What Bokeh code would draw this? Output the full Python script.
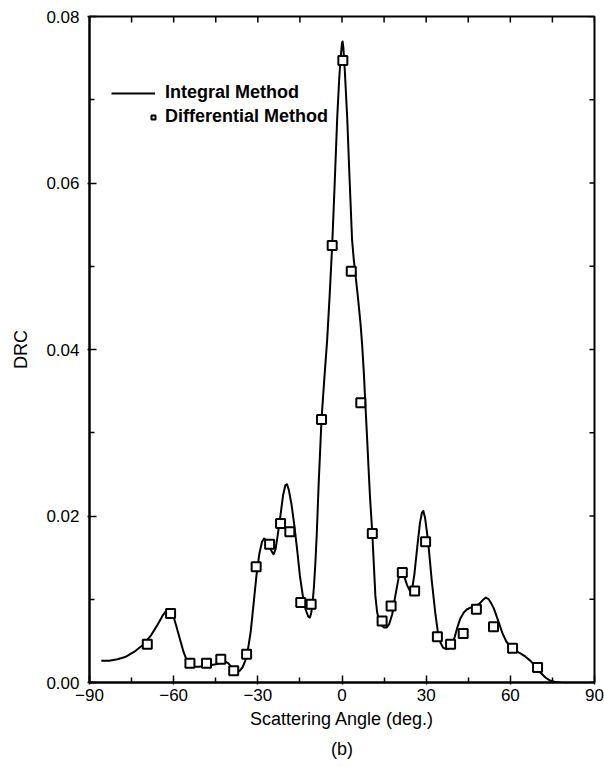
from bokeh.plotting import figure
from bokeh.models import FixedTicker, Legend, LegendItem, Title, Range1d
from bokeh.embed import file_html
from bokeh.resources import INLINE

# Integral method curve: scattering angle (deg) vs DRC
angle_curve = [-85.8, -83.0, -80.0, -77.0, -74.0, -71.0, -68.0, -66.0, -64.0, -62.5,
               -61.5, -60.5, -59.5, -58.5, -57.5, -56.5, -55.5, -54.5, -53.0, -51.0,
               -48.0, -45.0, -43.0, -41.5, -40.5, -39.5, -38.5, -37.5, -36.5, -35.5,
               -34.5, -33.5, -32.5, -31.5, -30.5, -29.5, -28.5, -27.8, -27.0, -26.0,
               -25.0, -24.4, -23.7, -23.0, -22.0, -21.0, -20.2, -19.6, -19.0, -18.0,
               -17.0, -16.0, -15.0, -14.0, -13.0, -12.0, -11.5, -11.0, -10.5, -10.0,
               -9.5, -9.0, -8.3, -7.3, -6.3, -5.3, -4.4, -3.5, -2.6, -1.7,
               -1.0, -0.5, 0.0, 0.2, 0.5, 1.0, 1.85, 2.7, 3.6, 4.2,
               4.8, 5.7, 6.6, 7.2, 7.8, 8.4, 9.0, 9.5, 10.0, 10.8,
               11.4, 11.9, 12.5, 13.2, 14.0, 15.0, 15.9, 16.8, 17.9, 19.0,
               20.2, 21.0, 21.6, 22.4, 23.2, 24.2, 25.0, 25.8, 26.8, 27.8,
               28.5, 29.0, 29.6, 30.3, 30.9, 32.0, 33.3, 34.2, 35.1, 36.0,
               37.1, 38.2, 39.3, 40.2, 41.1, 42.2, 43.4, 44.6, 45.8, 47.3,
               48.8, 50.2, 51.3, 52.3, 53.2, 54.1, 55.6, 57.1, 58.6, 60.1,
               61.8, 63.6, 65.4, 67.2, 69.0, 70.7, 72.5, 74.3, 76.0, 78.0]
drc_curve = [0.0026, 0.0026, 0.0028, 0.0031, 0.0037, 0.0045, 0.0057, 0.0068, 0.0080, 0.0087,
             0.0088, 0.0084, 0.0073, 0.0061, 0.0049, 0.0037, 0.0028, 0.0022, 0.0019, 0.0019,
             0.0020, 0.0022, 0.0024, 0.0025, 0.0023, 0.0019, 0.0015, 0.0013, 0.0014, 0.0018,
             0.0026, 0.0040, 0.0062, 0.0095, 0.0128, 0.0154, 0.0169, 0.0173, 0.0171, 0.0165,
             0.0157, 0.0154, 0.0160, 0.0175, 0.0199, 0.0225, 0.0237, 0.0238, 0.0232, 0.0214,
             0.0189, 0.0160, 0.0128, 0.0105, 0.0088, 0.0079, 0.0078, 0.0083, 0.0095, 0.0115,
             0.0143, 0.0178, 0.0240, 0.0316, 0.0365, 0.0411, 0.0465, 0.0525, 0.0600, 0.0679,
             0.0725, 0.0750, 0.0768, 0.0770, 0.0762, 0.0735, 0.0679, 0.0605, 0.0531, 0.0508,
             0.0490, 0.0462, 0.0431, 0.0405, 0.0371, 0.0330, 0.0290, 0.0255, 0.0222, 0.0179,
             0.0138, 0.0104, 0.0085, 0.0074, 0.0069, 0.0066, 0.0066, 0.0070, 0.0082, 0.0104,
             0.0126, 0.0135, 0.0133, 0.0125, 0.0117, 0.0110, 0.0112, 0.0130, 0.0162, 0.0192,
             0.0204, 0.0206, 0.0198, 0.0180, 0.0162, 0.0122, 0.0082, 0.0060, 0.0048, 0.0042,
             0.0040, 0.0041, 0.0046, 0.0055, 0.0066, 0.0077, 0.0084, 0.0088, 0.0090, 0.0092,
             0.0094, 0.0099, 0.0102, 0.0100, 0.0095, 0.0089, 0.0075, 0.0060, 0.0049, 0.0042,
             0.0038, 0.0035, 0.0031, 0.0026, 0.0019, 0.0012, 0.0006, 0.0002, 0.00005, 0.0]

# Differential method samples
angle_pts = [-69.4, -61.1, -54.2, -48.3, -43.2, -38.6, -34.0, -30.6, -25.8, -21.9,
             -18.6, -14.7, -11.0, -7.3, -3.5, 0.3, 3.3, 6.7, 10.8, 14.3,
             17.5, 21.5, 25.9, 29.8, 34.0, 38.7, 43.2, 47.9, 54.0, 60.8, 69.7]
drc_pts = [0.0046, 0.0083, 0.0023, 0.0023, 0.0028, 0.0014, 0.0034, 0.0139, 0.0166, 0.0191,
           0.0181, 0.0096, 0.0094, 0.0316, 0.0525, 0.0747, 0.0494, 0.0336, 0.0179, 0.0074,
           0.0092, 0.0132, 0.0110, 0.0169, 0.0055, 0.0046, 0.0059, 0.0088, 0.0067, 0.0041, 0.0018]

x_major = [-90, -60, -30, 0, 30, 60, 90]
x_minor = [-75, -45, -15, 15, 45, 75]
x_labels = ["\u221290", "\u221260", "\u221230", "0", "30", "60", "90"]
y_major = [0.0, 0.02, 0.04, 0.06, 0.08]
y_minor = [0.01, 0.03, 0.05, 0.07]
y_labels = ["0.00", "0.02", "0.04", "0.06", "0.08"]

FONT = "Liberation Sans"
X0, X1, Y0, Y1 = -90, 90, 0.0, 0.08
FRAME_W, FRAME_H = 505, 666

p = figure(width=604, height=767, output_backend="svg", toolbar_location=None,
           x_range=Range1d(X0, X1), y_range=Range1d(Y0, Y1),
           min_border_left=89, min_border_right=10, min_border_top=16,
           min_border_bottom=85)
p.background_fill_color = "white"
p.border_fill_color = "white"
p.outline_line_color = "black"
p.outline_line_width = 2
p.grid.visible = False

line_r = p.line(angle_curve, drc_curve, line_color="black", line_width=2,
                line_join="round")
pts_r = p.scatter(angle_pts, drc_pts, marker="square", size=9, line_color="black",
                  line_width=2, fill_color="white")

def style_axis(ax, ticks, minor, labels):
    ax.ticker = FixedTicker(ticks=ticks, minor_ticks=minor)
    ax.axis_line_color = "black"
    ax.axis_line_width = 2
    ax.major_tick_line_width = 1.5
    ax.minor_tick_line_width = 1.5
    ax.major_tick_in = 7
    ax.major_tick_out = 2
    ax.minor_tick_in = 5
    ax.minor_tick_out = 0
    ax.major_label_text_font = FONT
    ax.major_label_text_font_size = "17px"
    ax.major_label_text_color = "black"
    ax.axis_label_text_font = FONT
    ax.axis_label_text_font_size = "18px"
    ax.axis_label_text_font_style = "normal"
    ax.axis_label_text_color = "black"
    ax.major_label_overrides = {t: l for t, l in zip(ticks, labels)}

xa = p.xaxis[0]
style_axis(xa, x_major, x_minor, x_labels)
xa.axis_label = "Scattering Angle (deg.)"
xa.major_label_standoff = 4
xa.axis_label_standoff = 5

ya = p.yaxis[0]
style_axis(ya, y_major, y_minor, y_labels)
ya.axis_label = "DRC"
ya.major_label_standoff = 8
ya.axis_label_standoff = 12

# inward ticks along the top and right edges of the frame
top_ticks = x_major + x_minor
top_len = 6 * (Y1 - Y0) / FRAME_H
p.segment(x0=top_ticks, y0=[Y1] * len(top_ticks), x1=top_ticks,
          y1=[Y1 - top_len] * len(top_ticks), line_color="black", line_width=1.5)
right_ticks = y_major + y_minor
right_len = 5 * (X1 - X0) / FRAME_W
p.segment(x0=[X1] * len(right_ticks), y0=right_ticks, x1=[X1 - right_len] * len(right_ticks),
          y1=right_ticks, line_color="black", line_width=1.5)

common = dict(border_line_color=None, background_fill_alpha=0, padding=0, margin=0,
              glyph_height=20, label_height=20, label_text_font=FONT,
              label_text_font_size="18px", label_text_font_style="bold",
              label_text_color="black")
leg_line = Legend(items=[LegendItem(label="Integral Method", renderers=[line_r])],
                  location=(22, 579), glyph_width=44, label_standoff=10, **common)
leg_pts = Legend(items=[LegendItem(label="Differential Method", renderers=[pts_r])],
                 location=(59, 555), glyph_width=10, label_standoff=7, **common)
p.add_layout(leg_line)
p.add_layout(leg_pts)

p.add_layout(Title(text="(b)", align="center", text_font=FONT, text_font_size="18px",
                   text_font_style="normal", text_color="black", standoff=11), "below")

open("out.html", "w").write(file_html(p, INLINE))
